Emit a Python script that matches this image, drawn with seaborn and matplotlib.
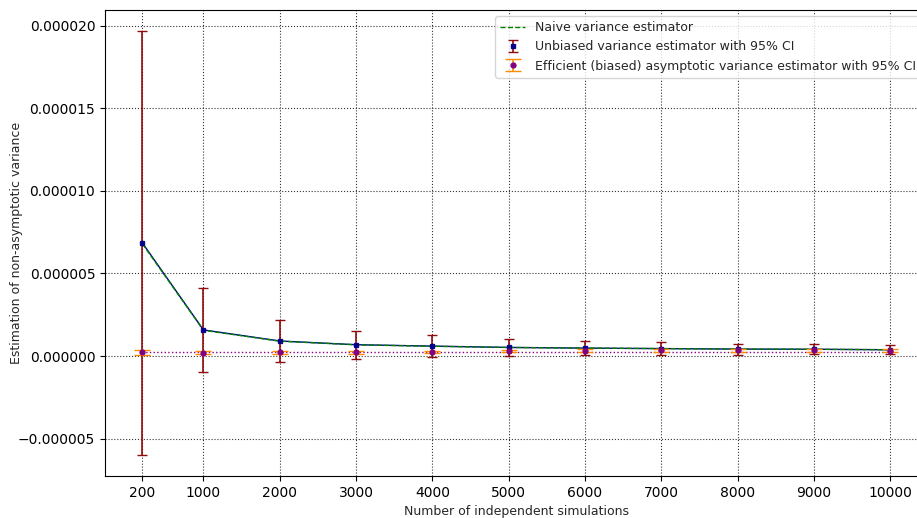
import numpy as np
import pandas as pd
import matplotlib
matplotlib.use("Agg")
import matplotlib.pyplot as plt
import seaborn as sns

# Number of simulations
n_sims = [200, 1000, 2000, 3000, 4000, 5000, 6000, 7000, 8000, 9000, 10000]

# Estimates (units of 1e-6)
naive = [6.80, 1.56, 0.90, 0.68, 0.59, 0.52, 0.48, 0.45, 0.42, 0.41, 0.38]
unbiased = [6.85, 1.58, 0.91, 0.685, 0.60, 0.52, 0.48, 0.45, 0.42, 0.41, 0.38]
unbiased_ci = [12.85, 2.55, 1.30, 0.86, 0.65, 0.53, 0.44, 0.38, 0.33, 0.30, 0.27]
efficient = [0.22, 0.20, 0.24, 0.24, 0.25, 0.30, 0.32, 0.34, 0.34, 0.34, 0.32]
efficient_ci = [0.15, 0.09, 0.09, 0.09, 0.08, 0.08, 0.08, 0.08, 0.08, 0.08, 0.08]
reference = [0.25] * len(n_sims)

scale = 1e-6
df = pd.DataFrame({
    "n": n_sims,
    "naive": np.array(naive) * scale,
    "unbiased": np.array(unbiased) * scale,
    "unbiased_ci": np.array(unbiased_ci) * scale,
    "efficient": np.array(efficient) * scale,
    "efficient_ci": np.array(efficient_ci) * scale,
    "reference": np.array(reference) * scale,
})

sns.set_style("ticks")
plt.rcParams["font.family"] = ["DejaVu Sans"]

fig = plt.figure(figsize=(9.17, 5.18), dpi=100)
ax = fig.add_axes([0.1145, 0.081, 0.897, 0.9])

# connecting line of the unbiased estimator and the reference level
sns.lineplot(data=df, x="n", y="unbiased", ax=ax, color="darkblue", linewidth=1.0)
sns.lineplot(data=df, x="n", y="reference", ax=ax, color="darkmagenta", linestyle=":", linewidth=1.0)
sns.lineplot(data=df, x="n", y="naive", ax=ax, color="green", linestyle="--", linewidth=1.0,
             label="Naive variance estimator")

ax.errorbar(df["n"], df["unbiased"], yerr=df["unbiased_ci"], fmt="s", color="darkblue",
            markersize=3.5, ecolor="darkred", elinewidth=1.2, capsize=3.5, alpha=0.95,
            label="Unbiased variance estimator with 95% CI")
ax.errorbar(df["n"], df["efficient"], yerr=df["efficient_ci"], fmt="o", color="purple",
            markersize=3.5, ecolor="darkorange", elinewidth=1.2, capsize=5.5,
            label="Efficient (biased) asymptotic variance estimator with 95% CI", zorder=3)

ax.set_xticks(n_sims)
ax.set_xticklabels([str(n) for n in n_sims])
ax.set_xlim(-290, 10490)
ax.set_ylim(-7.27e-6, 2.097e-5)
ax.ticklabel_format(style="plain", axis="y", useOffset=False)
ax.grid(True, linestyle=":", color="black", linewidth=0.8, alpha=0.8)

for s in ax.spines.values():
    s.set_visible(True)
    s.set_color("black")
    s.set_linewidth(0.8)

ax.tick_params(labelsize=10, colors="black")
ax.set_xlabel("Number of independent simulations", fontsize=9)
ax.set_ylabel("Estimation of non-asymptotic variance", fontsize=9)
ax.yaxis.set_label_coords(-0.100, 0.5)
ax.xaxis.set_label_coords(0.5, -0.062)

leg = ax.legend(loc="upper right", fontsize=9, frameon=True)
leg.get_frame().set_edgecolor("#cccccc")

fig.savefig("out.png", dpi=100)
